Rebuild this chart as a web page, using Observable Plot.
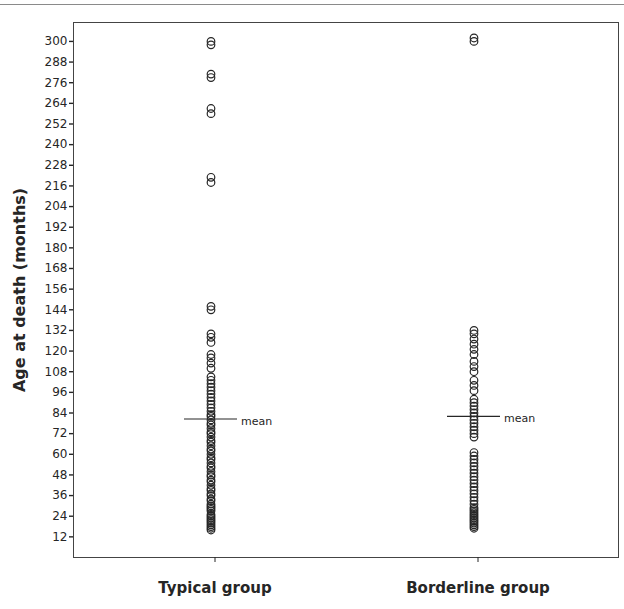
<!DOCTYPE html>
<html>
<head>
<meta charset="utf-8">
<script src="https://cdn.jsdelivr.net/npm/d3@7"></script>
<script src="https://cdn.jsdelivr.net/npm/@observablehq/plot@0.6"></script>
<style>
  html, body { margin: 0; padding: 0; background: #fff; }
  #wrap { position: relative; width: 624px; height: 609px; }
  #rule { position: absolute; left: 0; top: 4px; width: 624px; border-top: 1px solid #8a8a8a; }
</style>
</head>
<body>
<div id="wrap"><div id="rule"></div><div id="chart"></div></div>
<script>
// Categories
const groups = ["Typical group", "Borderline group"];

// Age at death (months)
const typicalAges = [300, 298, 281, 279, 261, 258, 221, 218, 146, 144,
  130, 128, 125, 118, 116, 113, 110,
  105, 103, 101, 99, 97, 95, 93, 91, 89, 87, 85, 83, 82, 80, 78, 77, 75, 73, 72, 70,
  68, 67, 65, 63, 62, 60, 58, 57, 55, 53, 52, 50, 48, 47, 45, 44, 42, 40, 39, 37,
  36, 34, 33, 31, 30, 29, 28, 27, 25, 24, 23, 22, 21, 20, 19, 18, 17, 16];
const borderlineAges = [302, 300,
  132, 130, 127, 124, 121, 118, 114, 111, 108,
  103, 100, 97,
  92, 90, 88, 86, 84, 82, 80, 78, 76, 74, 72, 70,
  61, 59, 57, 55, 53, 51, 49, 47, 45, 43, 41, 39, 37, 35, 33, 31, 29, 28, 27, 26,
  25, 24, 23, 22, 21, 20, 19, 18, 17];

// Group means
const means = [80.5, 82];

// Tick labels
const yTicks = [12, 24, 36, 48, 60, 72, 84, 96, 108, 120, 132, 144, 156, 168, 180,
  192, 204, 216, 228, 240, 252, 264, 276, 288, 300];

const points = [
  ...typicalAges.map(v => ({group: groups[0], age: v})),
  ...borderlineAges.map(v => ({group: groups[1], age: v}))
];
const meanRows = groups.map((g, i) => ({group: g, mean: means[i]}));

const ink = "#262626";

const chart = Plot.plot({
  width: 624,
  height: 609,
  marginLeft: 73,
  marginRight: 6,
  marginTop: 22,
  marginBottom: 52,
  style: {background: "#fff", color: ink},
  x: {type: "band", domain: groups, paddingInner: 0.8, paddingOuter: 0.436, label: null},
  y: {domain: [0, 311], label: null},
  marks: [
    Plot.frame({stroke: "#444", strokeWidth: 1}),
    Plot.axisY({ticks: yTicks, tickSize: 4, tickPadding: 2, fontSize: 12,
      fontFamily: "DejaVu Sans", fill: ink, stroke: ink, strokeWidth: 1.4, label: null}),
    Plot.axisY({ticks: [], tickSize: 0, label: "Age at death (months)",
      labelAnchor: "center", labelArrow: "none", labelOffset: 60,
      fontSize: 16, fontWeight: "bold", fontFamily: "DejaVu Sans", fill: ink}),
    Plot.axisX({tickSize: 5, tickPadding: 20, fontSize: 15, fontWeight: "bold",
      fontFamily: "DejaVu Sans", fill: ink, stroke: ink, label: null}),
    Plot.dot(points, {x: "group", y: "age", dx: -4, r: 3.8, stroke: ink, strokeWidth: 1.2, fill: "none"}),
    Plot.tickY(meanRows, {x: "group", y: "mean", dx: -4, stroke: ink, strokeWidth: 1.2}),
    Plot.text(meanRows, {x: "group", y: "mean", text: () => "mean", dx: 26, dy: 2,
      textAnchor: "start", fontSize: 11, fontFamily: "DejaVu Sans", fill: ink})
  ]
});
document.getElementById("chart").appendChild(chart);
</script>
</body>
</html>
